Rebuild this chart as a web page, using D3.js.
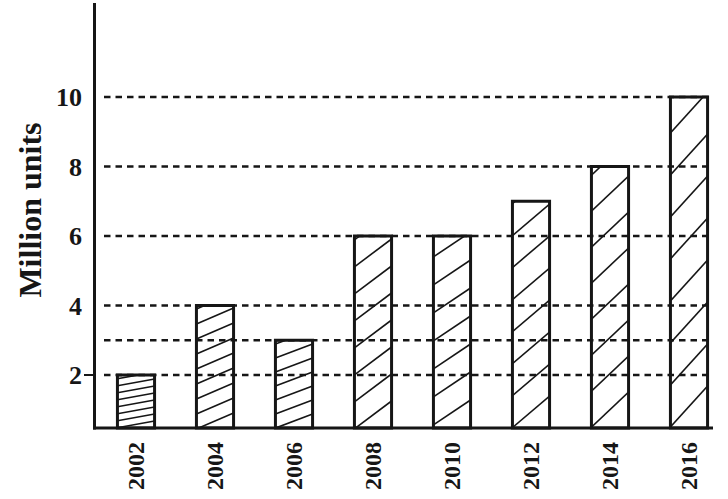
<!DOCTYPE html>
<html><head><meta charset="utf-8">
<script src="https://cdn.jsdelivr.net/npm/d3@7/dist/d3.min.js"></script>
<style>body{margin:0;background:#fff}svg{display:block}</style>
</head><body>
<script>
const years = ["2002","2004","2006","2008","2010","2012","2014","2016"];
const values = [2, 4, 3, 6, 6, 7, 8, 10];
const yTickValues = [2, 4, 6, 8, 10];
const gridValues = [2, 3, 4, 6, 8, 10];
const yTitle = "Million units";
// hatch styles per bar: [slope, vertical spacing]
const hatch = [[0.18,7],[0.43,15],[0.38,14],[0.75,27],[0.67,28],[0.85,32],[0.95,36],[1.1,42]];

const W = 728, H = 499, ink = "#161616";
const svg = d3.select("body").append("svg").attr("width", W).attr("height", H);

const axisX = 94.5, baseY = 428, topY = 3, rightX = 713;
const y = d3.scaleLinear().domain([2, 10]).range([375, 97]);
const x = d3.scaleBand().domain(years).range([96.5, 728.5]).paddingInner(0.53).paddingOuter(0.265);

const defs = svg.append("defs");

// bars
const bars = svg.append("g");
years.forEach((yr, i) => {
  const x0 = x(yr), w = x.bandwidth(), yt = y(values[i]), yb = baseY;
  const id = "clip" + i;
  defs.append("clipPath").attr("id", id).append("rect")
    .attr("x", x0).attr("y", yt).attr("width", w).attr("height", yb - yt);
  const g = bars.append("g");
  g.append("rect").attr("x", x0).attr("y", yt).attr("width", w).attr("height", yb - yt).attr("fill", "#fff");
  const [s, d] = hatch[i];
  const hg = g.append("g").attr("clip-path", `url(#${id})`);
  const rise = s * w;
  for (let yl = yb + rise + d; yl > yt - d; yl -= d) {
    hg.append("line").attr("x1", x0).attr("y1", yl).attr("x2", x0 + w).attr("y2", yl - rise)
      .attr("stroke", ink).attr("stroke-width", 1.6);
  }
  g.append("rect").attr("x", x0).attr("y", yt).attr("width", w).attr("height", yb - yt)
    .attr("fill", "none").attr("stroke", ink).attr("stroke-width", 3);
});

// dashed grid lines (drawn over bars)
svg.append("g").selectAll("line").data(gridValues).join("line")
  .attr("x1", 104).attr("x2", rightX).attr("y1", d => y(d)).attr("y2", d => y(d))
  .attr("stroke", ink).attr("stroke-width", 2.4).attr("stroke-dasharray", "6.5,5");

// axes lines
svg.append("line").attr("x1", axisX).attr("x2", axisX).attr("y1", topY).attr("y2", baseY + 1.5)
  .attr("stroke", ink).attr("stroke-width", 3);
svg.append("line").attr("x1", axisX - 1.5).attr("x2", rightX).attr("y1", baseY).attr("y2", baseY)
  .attr("stroke", ink).attr("stroke-width", 3);
// tick at 2
svg.append("line").attr("x1", 84).attr("x2", axisX).attr("y1", y(2)).attr("y2", y(2))
  .attr("stroke", ink).attr("stroke-width", 2);

// y tick labels
svg.append("g").selectAll("text").data(yTickValues).join("text")
  .attr("x", 82).attr("y", d => y(d)).attr("dy", "0.35em").attr("text-anchor", "end")
  .attr("font-family", "Liberation Serif, Times New Roman, serif").attr("font-weight", "bold")
  .attr("font-size", 26).attr("fill", ink).text(d => d);

// x tick labels
svg.append("g").selectAll("text").data(years).join("text")
  .attr("transform", d => `translate(${x(d) + x.bandwidth() / 2},466) rotate(-90)`)
  .attr("text-anchor", "middle").attr("dy", "0.35em")
  .attr("font-family", "Liberation Serif, Times New Roman, serif").attr("font-weight", "bold")
  .attr("font-size", 24).attr("fill", ink).text(d => d);

// y title
svg.append("text").attr("transform", "translate(30,210) rotate(-90)")
  .attr("text-anchor", "middle").attr("dy", "0.35em")
  .attr("font-family", "Liberation Serif, Times New Roman, serif").attr("font-weight", "bold")
  .attr("font-size", 32).attr("fill", ink).text(yTitle);
</script>
</body></html>
